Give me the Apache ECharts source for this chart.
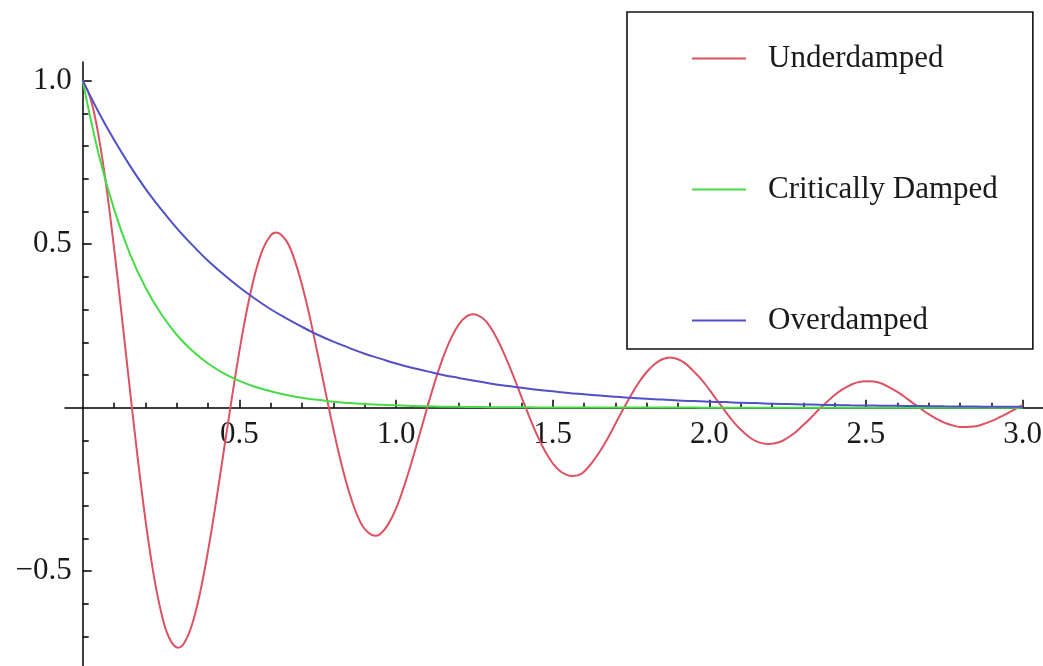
<!DOCTYPE html>
<html>
<head>
<meta charset="utf-8">
<title>Damped oscillator response</title>
<script src="https://cdn.jsdelivr.net/npm/echarts@6/dist/echarts.min.js"></script>
<style>
  html, body { margin: 0; padding: 0; background: #fff; }
  #chart { width: 1043px; height: 666px; }
</style>
</head>
<body>
<div id="chart"></div>
<script>
// Time samples (s) for the oscillating response; the turning points are sampled exactly
const timesFine = [
  0.000, 0.025, 0.050, 0.075, 0.100, 0.125, 0.150, 0.175, 0.200, 0.225,
  0.250, 0.275, 0.304, 0.325, 0.350, 0.375, 0.400, 0.425, 0.450, 0.475,
  0.500, 0.525, 0.550, 0.575, 0.600, 0.618, 0.650, 0.675, 0.700, 0.725,
  0.750, 0.775, 0.800, 0.825, 0.850, 0.875, 0.900, 0.933, 0.950, 0.975,
  1.000, 1.025, 1.050, 1.075, 1.100, 1.125, 1.150, 1.175, 1.200, 1.225,
  1.247, 1.275, 1.300, 1.325, 1.350, 1.375, 1.400, 1.425, 1.450, 1.475,
  1.500, 1.525, 1.561, 1.590, 1.610, 1.625, 1.650, 1.675, 1.700, 1.725,
  1.750, 1.775, 1.800, 1.825, 1.850, 1.875, 1.900, 1.925, 1.950, 1.975,
  2.000, 2.025, 2.050, 2.075, 2.100, 2.125, 2.150, 2.175, 2.189, 2.225,
  2.250, 2.275, 2.300, 2.325, 2.350, 2.375, 2.400, 2.425, 2.450, 2.475,
  2.503, 2.525, 2.550, 2.575, 2.600, 2.625, 2.650, 2.675, 2.700, 2.725,
  2.750, 2.775, 2.800, 2.818, 2.850, 2.875, 2.900, 2.925, 2.950, 2.975,
  3.000
];

const underdamped = [
  1.000, 0.945, 0.835, 0.679, 0.489, 0.278, 0.061, -0.150, -0.341, -0.502,
  -0.624, -0.702, -0.734, -0.718, -0.660, -0.564, -0.438, -0.292, -0.134, 0.023,
  0.172, 0.303, 0.409, 0.485, 0.527, 0.536, 0.510, 0.455, 0.375, 0.276,
  0.164, 0.048, -0.065, -0.169, -0.257, -0.326, -0.371, -0.392, -0.386, -0.357,
  -0.309, -0.243, -0.166, -0.083, 0.001, 0.082, 0.153, 0.211, 0.254, 0.279,
  0.286, 0.275, 0.248, 0.206, 0.154, 0.096, 0.034, -0.027, -0.083, -0.132,
  -0.170, -0.195, -0.209, -0.203, -0.186, -0.169, -0.135, -0.095, -0.050, -0.005,
  0.038, 0.077, 0.109, 0.133, 0.148, 0.153, 0.148, 0.134, 0.111, 0.086,
  0.055, 0.022, -0.010, -0.041, -0.067, -0.088, -0.103, -0.110, -0.111, -0.105,
  -0.092, -0.075, -0.053, -0.030, -0.005, 0.017, 0.039, 0.056, 0.069, 0.078,
  0.081, 0.080, 0.074, 0.062, 0.048, 0.032, 0.014, -0.003, -0.020, -0.034,
  -0.046, -0.054, -0.059, -0.059, -0.057, -0.050, -0.041, -0.030, -0.018, -0.005,
  0.008
];

// Time samples (s) for the two non-oscillating responses
const times = [
  0.00, 0.05, 0.10, 0.15, 0.20, 0.25, 0.30, 0.35, 0.40, 0.45,
  0.50, 0.55, 0.60, 0.65, 0.70, 0.75, 0.80, 0.85, 0.90, 0.95,
  1.00, 1.05, 1.10, 1.15, 1.20, 1.25, 1.30, 1.35, 1.40, 1.45,
  1.50, 1.55, 1.60, 1.65, 1.70, 1.75, 1.80, 1.85, 1.90, 1.95,
  2.00, 2.05, 2.10, 2.15, 2.20, 2.25, 2.30, 2.35, 2.40, 2.45,
  2.50, 2.55, 2.60, 2.65, 2.70, 2.75, 2.80, 2.85, 2.90, 2.95,
  3.00
];

const criticallyDamped = [
  1.000, 0.779, 0.607, 0.472, 0.368, 0.287, 0.223, 0.174, 0.135, 0.105,
  0.082, 0.064, 0.050, 0.039, 0.030, 0.024, 0.018, 0.014, 0.011, 0.009,
  0.007, 0.005, 0.004, 0.003, 0.0025, 0.002, 0.0015, 0.001, 0.001, 0.0007,
  0.0006, 0.0004, 0.0003, 0.0003, 0.0002, 0.0002, 0.0001, 0.0001, 0.0001, 0.0001,
  0, 0, 0, 0, 0, 0, 0, 0, 0, 0,
  0, 0, 0, 0, 0, 0, 0, 0, 0, 0,
  0
];

const overdamped = [
  1.000, 0.905, 0.819, 0.741, 0.670, 0.607, 0.549, 0.497, 0.449, 0.407,
  0.368, 0.333, 0.301, 0.273, 0.247, 0.223, 0.202, 0.183, 0.165, 0.150,
  0.135, 0.122, 0.111, 0.100, 0.091, 0.082, 0.074, 0.067, 0.061, 0.055,
  0.050, 0.045, 0.041, 0.037, 0.033, 0.030, 0.027, 0.025, 0.022, 0.020,
  0.018, 0.017, 0.015, 0.014, 0.012, 0.011, 0.010, 0.009, 0.008, 0.007,
  0.0067, 0.006, 0.0055, 0.005, 0.0045, 0.004, 0.0037, 0.0033, 0.003, 0.0027,
  0.0025
];

// Tick positions
const xMajorTicks = [0.5, 1.0, 1.5, 2.0, 2.5, 3.0];
const xMinorTicks = [
  0.1, 0.2, 0.3, 0.4, 0.6, 0.7, 0.8, 0.9, 1.1, 1.2, 1.3, 1.4,
  1.6, 1.7, 1.8, 1.9, 2.1, 2.2, 2.3, 2.4, 2.6, 2.7, 2.8, 2.9
];
const yMajorTicks = [-0.5, 0.5, 1.0];
const yMinorTicks = [-0.7, -0.6, -0.4, -0.3, -0.2, -0.1, 0.1, 0.2, 0.3, 0.4, 0.6, 0.7, 0.8, 0.9];

const seriesNames = ['Underdamped', 'Critically Damped', 'Overdamped'];
const seriesColors = ['#dc5262', '#46dc46', '#5050c8'];

// Plot range
const X_MIN = -0.0565, X_MAX = 3.065;
const Y_MIN = -0.79, Y_MAX = 1.057;

// Canvas and plot area
const CANVAS_W = 1043, CANVAS_H = 666;
const GRID = { left: 65, right: 0, top: 62, bottom: 0 };
const plotW = CANVAS_W - GRID.left - GRID.right;
const plotH = CANVAS_H - GRID.top - GRID.bottom;

// Axes cross at the origin: shift each axis from the plot edge to the zero line
const xAxisOffset = -plotH * (0 - Y_MIN) / (Y_MAX - Y_MIN);
const yAxisOffset = -plotW * (0 - X_MIN) / (X_MAX - X_MIN);

const FONT = '"Liberation Serif", "DejaVu Serif", serif';
const INK = '#1a1a1a';

function fmt(v) {
  const s = Math.abs(v).toFixed(1);
  return v < 0 ? '\u2212' + s : s;
}

function pairs(ts, values) {
  return ts.map((t, i) => [t, values[i]]);
}

const axisLineStyle = { color: '#000', width: 1.5 };

const chart = echarts.init(document.getElementById('chart'), null, { renderer: 'canvas' });

chart.setOption({
  backgroundColor: '#fff',
  animation: false,
  grid: Object.assign({ containLabel: false, outerBoundsMode: 'none' }, GRID),
  legend: {
    data: seriesNames,
    orient: 'vertical',
    left: 627,
    top: 12,
    padding: [31, 35, 13, 65],
    borderColor: '#111',
    borderWidth: 1.6,
    backgroundColor: '#fff',
    icon: 'rect',
    itemWidth: 54,
    itemHeight: 2,
    itemGap: 100,
    selectedMode: false,
    textStyle: { fontFamily: FONT, fontSize: 31, color: INK, lineHeight: 30, padding: [0, 0, 0, 17] }
  },
  xAxis: [
    {
      type: 'value',
      min: X_MIN,
      max: X_MAX,
      position: 'bottom',
      offset: xAxisOffset,
      axisLine: { show: true, onZero: false, lineStyle: axisLineStyle },
      axisTick: { show: true, inside: true, length: 8, customValues: xMajorTicks, lineStyle: axisLineStyle },
      axisLabel: {
        show: true,
        customValues: xMajorTicks,
        formatter: fmt,
        fontFamily: FONT,
        fontSize: 31,
        color: INK,
        margin: 12
      },
      splitLine: { show: false }
    },
    {
      type: 'value',
      min: X_MIN,
      max: X_MAX,
      position: 'bottom',
      offset: xAxisOffset,
      axisLine: { show: false, onZero: false },
      axisTick: { show: true, inside: true, length: 5, customValues: xMinorTicks, lineStyle: axisLineStyle },
      axisLabel: { show: false },
      splitLine: { show: false }
    }
  ],
  yAxis: [
    {
      type: 'value',
      min: Y_MIN,
      max: Y_MAX,
      position: 'left',
      offset: yAxisOffset,
      axisLine: { show: true, onZero: false, lineStyle: axisLineStyle },
      axisTick: { show: true, inside: true, length: 9, customValues: yMajorTicks, lineStyle: axisLineStyle },
      axisLabel: {
        show: true,
        customValues: yMajorTicks,
        formatter: fmt,
        fontFamily: FONT,
        fontSize: 31,
        color: INK,
        margin: 11
      },
      splitLine: { show: false }
    },
    {
      type: 'value',
      min: Y_MIN,
      max: Y_MAX,
      position: 'left',
      offset: yAxisOffset,
      axisLine: { show: false, onZero: false },
      axisTick: { show: true, inside: true, length: 6, customValues: yMinorTicks, lineStyle: axisLineStyle },
      axisLabel: { show: false },
      splitLine: { show: false }
    }
  ],
  series: [
    { name: seriesNames[0], data: pairs(timesFine, underdamped), color: seriesColors[0] },
    { name: seriesNames[1], data: pairs(times, criticallyDamped), color: seriesColors[1] },
    { name: seriesNames[2], data: pairs(times, overdamped), color: seriesColors[2] }
  ].map(s => Object.assign({
    type: 'line',
    xAxisIndex: 0,
    yAxisIndex: 0,
    showSymbol: false,
    smooth: 0.4,
    lineStyle: { width: 2, color: s.color },
    itemStyle: { color: s.color }
  }, s))
});
</script>
</body>
</html>
